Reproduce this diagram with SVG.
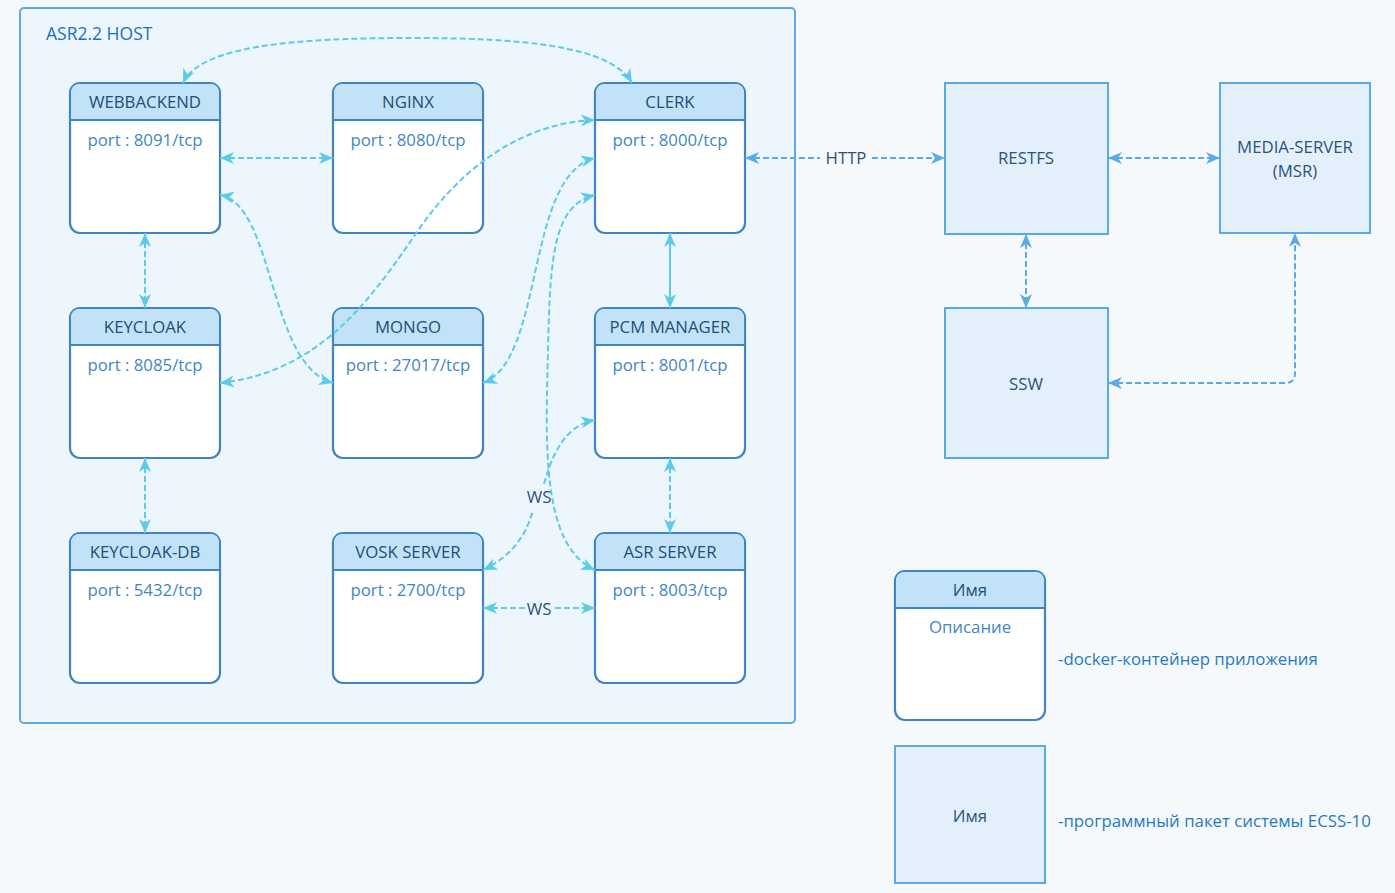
<svg xmlns="http://www.w3.org/2000/svg" width="1395" height="893" viewBox="0 0 1395 893">
<defs>
<style>
.t{font-family:"Open Sans","Noto Sans","Liberation Sans",sans-serif;font-size:16.8px;text-anchor:middle}
.title{fill:#234e78}
.port{fill:#3f86c8}
.box{fill:#e3f0fc;stroke:#5aaae6;stroke-width:2}
.body{fill:#ffffff;stroke:#3f84c4;stroke-width:2.2}
.hdr{fill:#c2e3f7}
.sep{stroke:#3f84c4;stroke-width:2.2}
.c{fill:none;stroke:#5bcbe8;stroke-width:2;stroke-dasharray:6,3}
.cs{fill:none;stroke:#5bcbe8;stroke-width:2}
.b{fill:none;stroke:#5aaae6;stroke-width:2;stroke-dasharray:6,3}
.lbl{fill:#2b5478}
.leg{fill:#1f7ac4;font-family:"Open Sans","Noto Sans","Liberation Sans",sans-serif;font-size:16.8px}
</style>
<marker id="ac" viewBox="0 0 14 12" refX="14" refY="6" markerWidth="14" markerHeight="12" markerUnits="userSpaceOnUse" orient="auto-start-reverse"><path d="M0,0 L14,6 L0,12 L4,6 z" fill="#5bcbe8"/></marker>
<marker id="ab" viewBox="0 0 14 12" refX="14" refY="6" markerWidth="14" markerHeight="12" markerUnits="userSpaceOnUse" orient="auto-start-reverse"><path d="M0,0 L14,6 L0,12 L4,6 z" fill="#5aaae6"/></marker>
</defs>
<rect x="0" y="0" width="1395" height="893" fill="#f6f9fc"/>
<g id="host">
<rect x="20" y="8" width="775" height="715" rx="4" fill="#eef6fd" stroke="#5aaae6" stroke-width="2"/>
<text x="46" y="40" class="leg" style="fill:#1a70c0;font-size:17.5px">ASR2.2 HOST</text>
</g>

<g id="webbackend">
<rect x="70" y="83" width="150" height="150" rx="10" class="body"/>
<path d="M71,120 V93 Q71,84 80,84 H210 Q219,84 219,93 V120 Z" class="hdr"/>
<line x1="70" y1="120" x2="220" y2="120" class="sep"/>
<text x="145" y="108" class="t title">WEBBACKEND</text>
<text x="145" y="146" class="t port">port : 8091/tcp</text>
</g>
<g id="nginx">
<rect x="333" y="83" width="150" height="150" rx="10" class="body"/>
<path d="M334,120 V93 Q334,84 343,84 H473 Q482,84 482,93 V120 Z" class="hdr"/>
<line x1="333" y1="120" x2="483" y2="120" class="sep"/>
<text x="408" y="108" class="t title">NGINX</text>
<text x="408" y="146" class="t port">port : 8080/tcp</text>
</g>
<g id="clerk">
<rect x="595" y="83" width="150" height="150" rx="10" class="body"/>
<path d="M596,120 V93 Q596,84 605,84 H735 Q744,84 744,93 V120 Z" class="hdr"/>
<line x1="595" y1="120" x2="745" y2="120" class="sep"/>
<text x="670" y="108" class="t title">CLERK</text>
<text x="670" y="146" class="t port">port : 8000/tcp</text>
</g>
<g id="keycloak">
<rect x="70" y="308" width="150" height="150" rx="10" class="body"/>
<path d="M71,345 V318 Q71,309 80,309 H210 Q219,309 219,318 V345 Z" class="hdr"/>
<line x1="70" y1="345" x2="220" y2="345" class="sep"/>
<text x="145" y="333" class="t title">KEYCLOAK</text>
<text x="145" y="371" class="t port">port : 8085/tcp</text>
</g>
<g id="mongo">
<rect x="333" y="308" width="150" height="150" rx="10" class="body"/>
<path d="M334,345 V318 Q334,309 343,309 H473 Q482,309 482,318 V345 Z" class="hdr"/>
<line x1="333" y1="345" x2="483" y2="345" class="sep"/>
<text x="408" y="333" class="t title">MONGO</text>
<text x="408" y="371" class="t port">port : 27017/tcp</text>
</g>
<g id="pcm-manager">
<rect x="595" y="308" width="150" height="150" rx="10" class="body"/>
<path d="M596,345 V318 Q596,309 605,309 H735 Q744,309 744,318 V345 Z" class="hdr"/>
<line x1="595" y1="345" x2="745" y2="345" class="sep"/>
<text x="670" y="333" class="t title">PCM MANAGER</text>
<text x="670" y="371" class="t port">port : 8001/tcp</text>
</g>
<g id="keycloak-db">
<rect x="70" y="533" width="150" height="150" rx="10" class="body"/>
<path d="M71,570 V543 Q71,534 80,534 H210 Q219,534 219,543 V570 Z" class="hdr"/>
<line x1="70" y1="570" x2="220" y2="570" class="sep"/>
<text x="145" y="558" class="t title">KEYCLOAK-DB</text>
<text x="145" y="596" class="t port">port : 5432/tcp</text>
</g>
<g id="vosk-server">
<rect x="333" y="533" width="150" height="150" rx="10" class="body"/>
<path d="M334,570 V543 Q334,534 343,534 H473 Q482,534 482,543 V570 Z" class="hdr"/>
<line x1="333" y1="570" x2="483" y2="570" class="sep"/>
<text x="408" y="558" class="t title">VOSK SERVER</text>
<text x="408" y="596" class="t port">port : 2700/tcp</text>
</g>
<g id="asr-server">
<rect x="595" y="533" width="150" height="150" rx="10" class="body"/>
<path d="M596,570 V543 Q596,534 605,534 H735 Q744,534 744,543 V570 Z" class="hdr"/>
<line x1="595" y1="570" x2="745" y2="570" class="sep"/>
<text x="670" y="558" class="t title">ASR SERVER</text>
<text x="670" y="596" class="t port">port : 8003/tcp</text>
</g>

<g id="restfs">
<rect x="945" y="83" width="163" height="151" class="box"/>
<text x="1026" y="164" class="t lbl">RESTFS</text>
</g>
<g id="media-server">
<rect x="1220" y="83" width="150" height="150" class="box"/>
<text x="1295" y="153" class="t lbl">MEDIA-SERVER</text>
<text x="1295" y="177" class="t lbl">(MSR)</text>
</g>
<g id="ssw">
<rect x="945" y="308" width="163" height="150" class="box"/>
<text x="1026" y="390" class="t lbl">SSW</text>
</g>

<g id="connectors">
<path class="c" d="M183,83 C200,45 300,38 410,38 C520,38 610,45 632,83" marker-start="url(#ac)" marker-end="url(#ac)"/>
<path class="c" d="M220,158 L333,158" marker-start="url(#ac)" marker-end="url(#ac)"/>
<path class="c" d="M220,195 C275,205 268,365 333,383" marker-start="url(#ac)" marker-end="url(#ac)"/>
<path class="c" d="M220,383 C320,372 370,300 415,235 C465,160 530,122 595,120" marker-start="url(#ac)" marker-end="url(#ac)"/>
<path class="c" d="M483,383 C545,360 525,175 595,158" marker-start="url(#ac)" marker-end="url(#ac)"/>
<path class="c" d="M595,570 C540,545 546,440 548,350 C550,250 555,205 595,195" marker-start="url(#ac)" marker-end="url(#ac)"/>
<path class="c" d="M483,570 C515,555 528,530 533,510" marker-start="url(#ac)"/>
<path class="c" d="M544,484 C552,455 565,425 595,420" marker-end="url(#ac)"/>
<text x="539" y="503" class="t lbl">WS</text>
<path class="c" d="M483,608 L525,608" marker-start="url(#ac)"/>
<path class="c" d="M555,608 L595,608" marker-end="url(#ac)"/>
<text x="539" y="615" class="t lbl">WS</text>
<path class="cs" d="M670,233 L670,308" marker-start="url(#ac)" marker-end="url(#ac)"/>
<path class="c" d="M145,233 L145,308" marker-start="url(#ac)" marker-end="url(#ac)"/>
<path class="c" d="M145,458 L145,533" marker-start="url(#ac)" marker-end="url(#ac)"/>
<path class="c" d="M670,458 L670,533" marker-start="url(#ac)" marker-end="url(#ac)"/>
<path class="b" d="M745,158 L820,158" marker-start="url(#ab)"/>
<path class="b" d="M872,158 L945,158" marker-end="url(#ab)"/>
<text x="846" y="164" class="t lbl">HTTP</text>
<path class="b" d="M1108,158 L1220,158" marker-start="url(#ab)" marker-end="url(#ab)"/>
<path class="b" d="M1026,234 L1026,308" marker-start="url(#ab)" marker-end="url(#ab)"/>
<path class="b" d="M1108,383 L1285,383 Q1295,383 1295,373 L1295,233" marker-start="url(#ab)" marker-end="url(#ab)"/>
</g>

<g id="legend-container">
<rect x="895" y="571" width="150" height="149" rx="10" class="body"/>
<path d="M896,608 V581 Q896,572 905,572 H1035 Q1044,572 1044,581 V608 Z" class="hdr"/>
<line x1="895" y1="608" x2="1045" y2="608" class="sep"/>
<text x="970" y="596" class="t title">Имя</text>
<text x="970" y="633" class="t port">Описание</text>
<text x="1058" y="665" class="leg">-docker-контейнер приложения</text>
</g>
<g id="legend-package">
<rect x="895" y="746" width="150" height="137" class="box"/>
<text x="970" y="822" class="t lbl">Имя</text>
<text x="1058" y="827" class="leg">-программный пакет системы ECSS-10</text>
</g>
</svg>
